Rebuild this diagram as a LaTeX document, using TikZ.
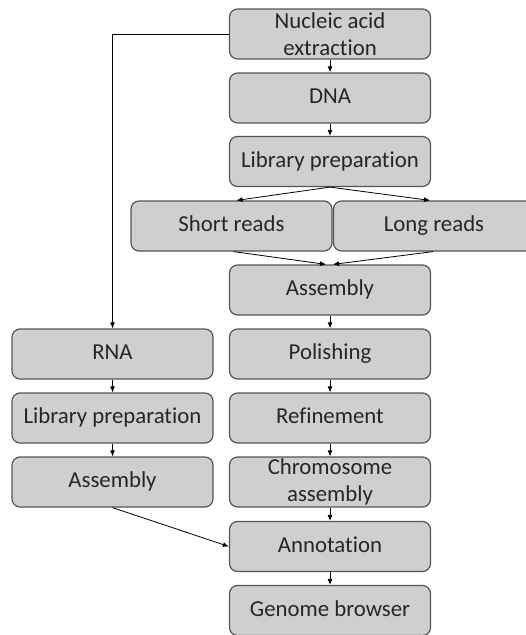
\documentclass[tikz,border=0pt]{standalone}
\usepackage{fontspec}
\setmainfont[Ligatures={NoCommon}]{Carlito}
\usetikzlibrary{arrows.meta}
\definecolor{boxgray}{RGB}{208,206,206}
\definecolor{edgegray}{RGB}{85,85,85}

\begin{document}
\begin{tikzpicture}[x=1pt,y=-1pt,
		stage/.style={draw=edgegray,line width=1.2pt,fill=boxgray,rounded corners=8pt,
			minimum width=201pt,minimum height=50pt,align=center,inner sep=1pt,
			text height=16pt,text depth=5pt,
			font=\fontsize{22.8}{27}\selectfont,text=black!85},
		twoline/.style={text height=,text depth=},
		flow/.style={line width=0.8pt,-{Latex[length=6pt,width=5pt]}}]
		% Frame
		\useasboundingbox (0,0) rectangle (526,635);
		\clip (0,0) rectangle (526,635);
		
		% Genome column
		\node[stage,twoline] (ext) at (330,34) {Nucleic acid\\extraction};
		\node[stage] (dna) at (330,98) {DNA};
		\node[stage] (libR) at (330,161.5) {Library preparation};
		\node[stage] (short) at (231.5,226) {Short reads};
		\node[stage] (long) at (434,226) {Long reads};
		\node[stage] (asmR) at (330,290) {Assembly};
		\node[stage] (pol) at (330,354) {Polishing};
		\node[stage] (ref) at (330,418) {Refinement};
		\node[stage,twoline] (chr) at (330,482) {Chromosome\\assembly};
		\node[stage] (ann) at (330,546.5) {Annotation};
		\node[stage] (gb) at (330,610.5) {Genome browser};
		
		% Transcript column
		\node[stage] (rna) at (112.5,354) {RNA};
		\node[stage] (libL) at (112.5,418) {Library preparation};
		\node[stage] (asmL) at (112.5,482) {Assembly};
		
		% Arrows
		\draw[flow] (ext) -- (dna);
		\draw[flow] (dna) -- (libR);
		\draw[flow] (libR.south) -- ([xshift=5pt]short.north);
		\draw[flow] (libR.south) -- ([xshift=-4pt]long.north);
		\draw[flow] ([xshift=2pt]short.south) -- ([xshift=-4pt]asmR.north);
		\draw[flow] ([xshift=-1pt]long.south) -- ([xshift=3pt]asmR.north);
		\draw[flow] (asmR) -- (pol);
		\draw[flow] (pol) -- (ref);
		\draw[flow] (ref) -- (chr);
		\draw[flow] (chr) -- (ann);
		\draw[flow] (ann) -- (gb);
		
		% RNA branch
		\draw[flow] (ext.west) -| (rna.north);
		\draw[flow] (rna) -- (libL);
		\draw[flow] (libL) -- (asmL);
		\draw[flow] (asmL.south) -- (ann.west);
	\end{tikzpicture}
\end{document}
